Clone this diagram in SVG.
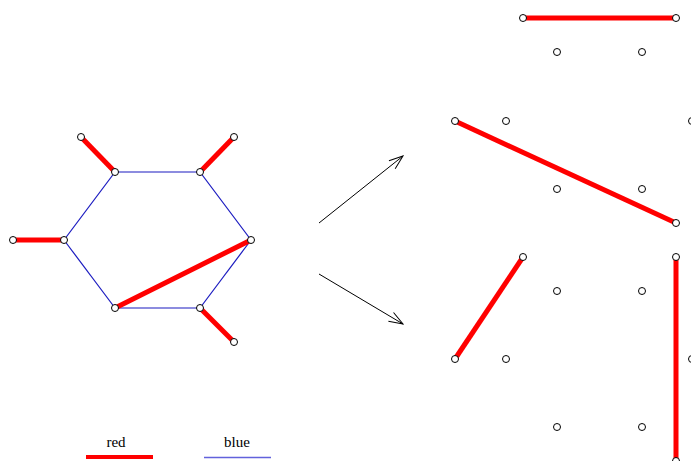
<svg xmlns="http://www.w3.org/2000/svg" width="691" height="461" viewBox="0 0 691 461">
<style>
.red{stroke:#ff0000;stroke-width:5;fill:none}
.blue{stroke:#1a1ac0;stroke-width:1.2;fill:none}
.arr{stroke:#000;stroke-width:1;fill:none}
.v{fill:#fff;stroke:#000;stroke-width:1}
.lbl{font-family:"Liberation Serif",serif;font-size:15px;fill:#000;text-anchor:middle}
</style>
<defs>
<marker id="ah" markerWidth="16" markerHeight="12" refX="15" refY="6" orient="auto" markerUnits="userSpaceOnUse">
<path d="M1,1 L15,6 L1,11" fill="none" stroke="#000" stroke-width="1"/>
</marker>
</defs>
<rect width="691" height="461" fill="#fff"/>
<g id="connectors">
<line class="blue" x1="115" y1="172" x2="200" y2="172"/>
<line class="blue" x1="200" y1="172" x2="251" y2="240"/>
<line class="blue" x1="251" y1="240" x2="200" y2="308"/>
<line class="blue" x1="200" y1="308" x2="115" y2="308"/>
<line class="blue" x1="115" y1="308" x2="64" y2="240"/>
<line class="blue" x1="64" y1="240" x2="115" y2="172"/>
<line class="red" x1="81" y1="137" x2="115" y2="172"/>
<line class="red" x1="234" y1="137" x2="200" y2="172"/>
<line class="red" x1="13" y1="240" x2="64" y2="240"/>
<line class="red" x1="115" y1="308" x2="251" y2="240"/>
<line class="red" x1="200" y1="308" x2="234" y2="342"/>
<line class="red" x1="523" y1="18" x2="676" y2="18"/>
<line class="red" x1="455" y1="121" x2="676" y2="223"/>
<line class="red" x1="523" y1="257" x2="455" y2="359"/>
<line class="red" x1="676" y1="257" x2="676" y2="461"/>
<line class="arr" x1="319" y1="223" x2="403" y2="156" marker-end="url(#ah)"/>
<line class="arr" x1="319" y1="274" x2="403" y2="324" marker-end="url(#ah)"/>
</g>
<g id="nodes">
<circle id="n1" class="v" cx="81" cy="137" r="3.5"/>
<circle id="n2" class="v" cx="234" cy="137" r="3.5"/>
<circle id="n3" class="v" cx="115" cy="172" r="3.5"/>
<circle id="n4" class="v" cx="200" cy="172" r="3.5"/>
<circle id="n5" class="v" cx="13" cy="240" r="3.5"/>
<circle id="n6" class="v" cx="64" cy="240" r="3.5"/>
<circle id="n7" class="v" cx="251" cy="240" r="3.5"/>
<circle id="n8" class="v" cx="115" cy="308" r="3.5"/>
<circle id="n9" class="v" cx="200" cy="308" r="3.5"/>
<circle id="n10" class="v" cx="234" cy="342" r="3.5"/>
<circle id="r1" class="v" cx="523" cy="18" r="3.5"/>
<circle id="r2" class="v" cx="676" cy="18" r="3.5"/>
<circle id="r3" class="v" cx="557" cy="52" r="3.5"/>
<circle id="r4" class="v" cx="642" cy="52" r="3.5"/>
<circle id="r5" class="v" cx="455" cy="121" r="3.5"/>
<circle id="r6" class="v" cx="506" cy="121" r="3.5"/>
<circle id="r7" class="v" cx="692" cy="121" r="3.5"/>
<circle id="r8" class="v" cx="557" cy="189" r="3.5"/>
<circle id="r9" class="v" cx="642" cy="189" r="3.5"/>
<circle id="r10" class="v" cx="676" cy="223" r="3.5"/>
<circle id="s1" class="v" cx="523" cy="257" r="3.5"/>
<circle id="s2" class="v" cx="676" cy="257" r="3.5"/>
<circle id="s3" class="v" cx="557" cy="291" r="3.5"/>
<circle id="s4" class="v" cx="642" cy="291" r="3.5"/>
<circle id="s5" class="v" cx="455" cy="359" r="3.5"/>
<circle id="s6" class="v" cx="506" cy="359" r="3.5"/>
<circle id="s7" class="v" cx="692" cy="359" r="3.5"/>
<circle id="s8" class="v" cx="557" cy="427" r="3.5"/>
<circle id="s9" class="v" cx="642" cy="427" r="3.5"/>
<circle id="s10" class="v" cx="676" cy="461" r="3.5"/>
</g>
<g id="legend">
<text class="lbl" x="116" y="447">red</text>
<line class="red" x1="86" y1="457" x2="153" y2="457" style="stroke-width:4"/>
<text class="lbl" x="237" y="447">blue</text>
<line x1="204" y1="457.5" x2="271" y2="457.5" stroke="#6262dc" stroke-width="1.5"/>
</g>
</svg>
